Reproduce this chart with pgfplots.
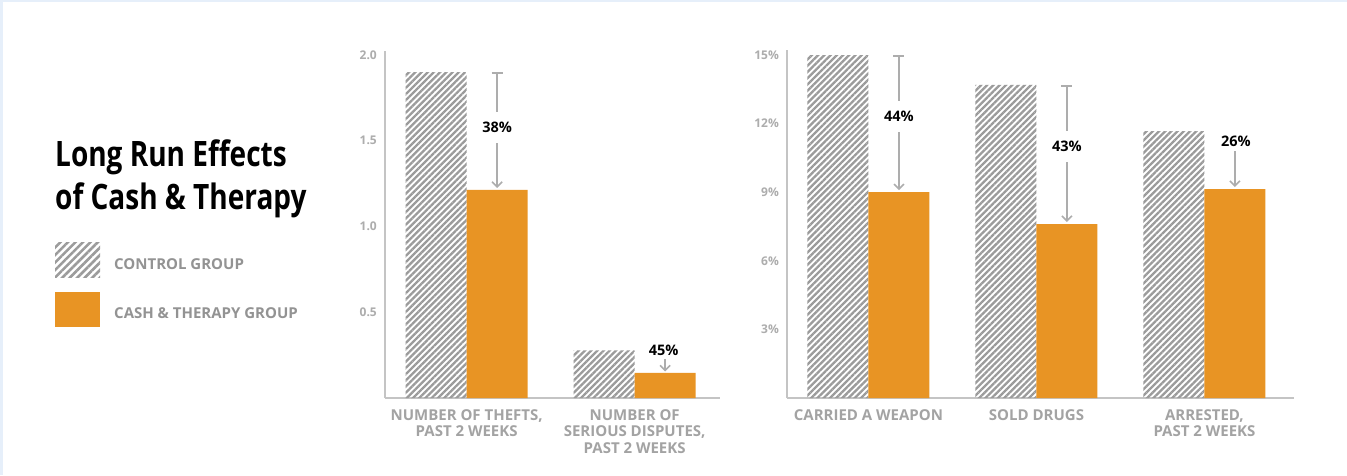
\documentclass[border=0pt]{standalone}
\usepackage{fontspec}
\setmainfont{Open Sans}
\newfontfamily\titlefont[FakeStretch=0.8]{Open Sans}
\usepackage{pgfplots}
\pgfplotsset{compat=1.18}
\usetikzlibrary{patterns.meta,arrows.meta}

\definecolor{orangebar}{HTML}{E89424}
\definecolor{hatchgray}{HTML}{9B9B9B}
\definecolor{axisgray}{HTML}{C4C4C4}
\definecolor{ticktext}{HTML}{ADADAD}
\definecolor{cattext}{HTML}{A3A3A3}
\definecolor{legtext}{HTML}{939393}
\definecolor{arrowgray}{HTML}{ADADAD}
\definecolor{framebg}{HTML}{E6EFFA}

\tikzset{
  hatch/.style={pattern={Lines[angle=45,distance=4.4pt,line width=2.3pt]}, pattern color=hatchgray},
  keyhatch/.style={pattern={Lines[angle=45,distance=5.3pt,line width=2.6pt]}, pattern color=hatchgray},
  dropline/.style={arrowgray, line width=1.6pt},
  pctlabel/.style={font=\bfseries\fontsize{14.5}{16}\selectfont, text=black, inner xsep=1pt, text height=10.5pt, text depth=0pt},
}

\pgfplotsset{
  barpanel/.style={
    ybar, bar width=61pt, scale only axis, anchor=south west, clip=false,
    axis lines*=left, axis line style={axisgray, line width=1.6pt},
    major tick length=0pt, ymin=0,
    yticklabel style={text=ticktext, font=\bfseries\fontsize{12}{13}\selectfont, inner sep=0pt, xshift=-8pt},
    xticklabel style={text=cattext, font=\bfseries\fontsize{15}{16.5}\selectfont, align=center, inner sep=0pt, yshift=-11pt},
  },
}

\begin{document}
\begin{tikzpicture}[x=1pt,y=1pt]
\fill[framebg] (0,0) rectangle (1347,475);
\fill[white] (3,0) rectangle (1347,473);

% title and legend
\node[anchor=base west, inner sep=0, font=\titlefont\bfseries\fontsize{35}{42}\selectfont] at (55,308.3) {Long Run Effects};
\node[anchor=base west, inner sep=0, font=\titlefont\bfseries\fontsize{35}{42}\selectfont] at (55,265.7) {of Cash \& Therapy};
\fill[keyhatch] (55,198) rectangle (100,233);
\fill[orangebar] (55,148) rectangle (100,183);
\node[anchor=base west, inner sep=0, text=legtext, font=\bfseries\fontsize{15}{17}\selectfont] at (114,205.7) {CONTROL GROUP};
\node[anchor=base west, inner sep=0, text=legtext, font=\bfseries\fontsize{15}{17}\selectfont] at (114,156.7) {CASH \& THERAPY GROUP};

% counts panel
\begin{axis}[barpanel, at={(385pt,77pt)}, width=335pt, height=347pt,
  xmin=-0.486, xmax=1.508, ymax=2.023,
  ytick={0.5,1,1.5,2}, yticklabels={0.5,1.0,1.5,2.0},
  xtick={0,1},
  xticklabels={{NUMBER OF THEFTS,\\PAST 2 WEEKS},{NUMBER OF\\SERIOUS DISPUTES,\\PAST 2 WEEKS}}]
\addplot[draw=none, hatch, bar shift=-30.5pt] coordinates {(0,1.90) (1,0.278)};
\addplot[draw=none, fill=orangebar, bar shift=30.5pt] coordinates {(0,1.213) (1,0.146)};
\draw[dropline, {Bar[width=11pt]}-{Straight Barb[length=5pt,width=10pt]}]
  ([xshift=30.5pt]axis cs:0,1.90) -- ([xshift=30.5pt,yshift=2pt]axis cs:0,1.213)
  node[pos=0.48, pctlabel, fill=white, inner ysep=10pt] {38\%};
\draw[dropline, -{Straight Barb[length=5pt,width=10pt]}]
  ([xshift=30.5pt,yshift=14pt]axis cs:1,0.146) -- ([xshift=30.5pt,yshift=1.5pt]axis cs:1,0.146);
\node[pctlabel, inner ysep=0pt] at ([xshift=29pt,yshift=22.5pt]axis cs:1,0.146) {45\%};
\end{axis}

% shares panel
\begin{axis}[barpanel, at={(787pt,77pt)}, width=507pt, height=348pt,
  xmin=-0.485, xmax=2.533, ymax=15.22,
  ytick={3,6,9,12,15}, yticklabels={3\%,6\%,9\%,12\%,15\%},
  xtick={0,1,2},
  xticklabels={CARRIED A WEAPON,SOLD DRUGS,{ARRESTED,\\PAST 2 WEEKS}}]
\addplot[draw=none, hatch, bar shift=-30.5pt] coordinates {(0,15.0) (1,13.69) (2,11.67)};
\addplot[draw=none, fill=orangebar, bar shift=30.5pt] coordinates {(0,9.0) (1,7.61) (2,9.14)};
\draw[dropline, {Bar[width=11pt]}-{Straight Barb[length=5pt,width=10pt]}]
  ([xshift=30.5pt]axis cs:0,15.0) -- ([xshift=30.5pt,yshift=2pt]axis cs:0,9.0)
  node[pos=0.455, pctlabel, fill=white, inner ysep=10pt] {44\%};
\draw[dropline, {Bar[width=11pt]}-{Straight Barb[length=5pt,width=10pt]}]
  ([xshift=30.5pt]axis cs:1,13.69) -- ([xshift=30.5pt,yshift=2pt]axis cs:1,7.61)
  node[pos=0.45, pctlabel, fill=white, inner ysep=10pt] {43\%};
\draw[dropline, -{Straight Barb[length=5pt,width=10pt]}]
  ([xshift=30.5pt,yshift=38pt]axis cs:2,9.14) -- ([xshift=30.5pt,yshift=2pt]axis cs:2,9.14);
\node[pctlabel, inner ysep=0pt] at ([xshift=31.5pt,yshift=48pt]axis cs:2,9.14) {26\%};
\end{axis}

\pgfresetboundingbox
\path[use as bounding box] (0,0) rectangle (1347,475);
\end{tikzpicture}
\end{document}
